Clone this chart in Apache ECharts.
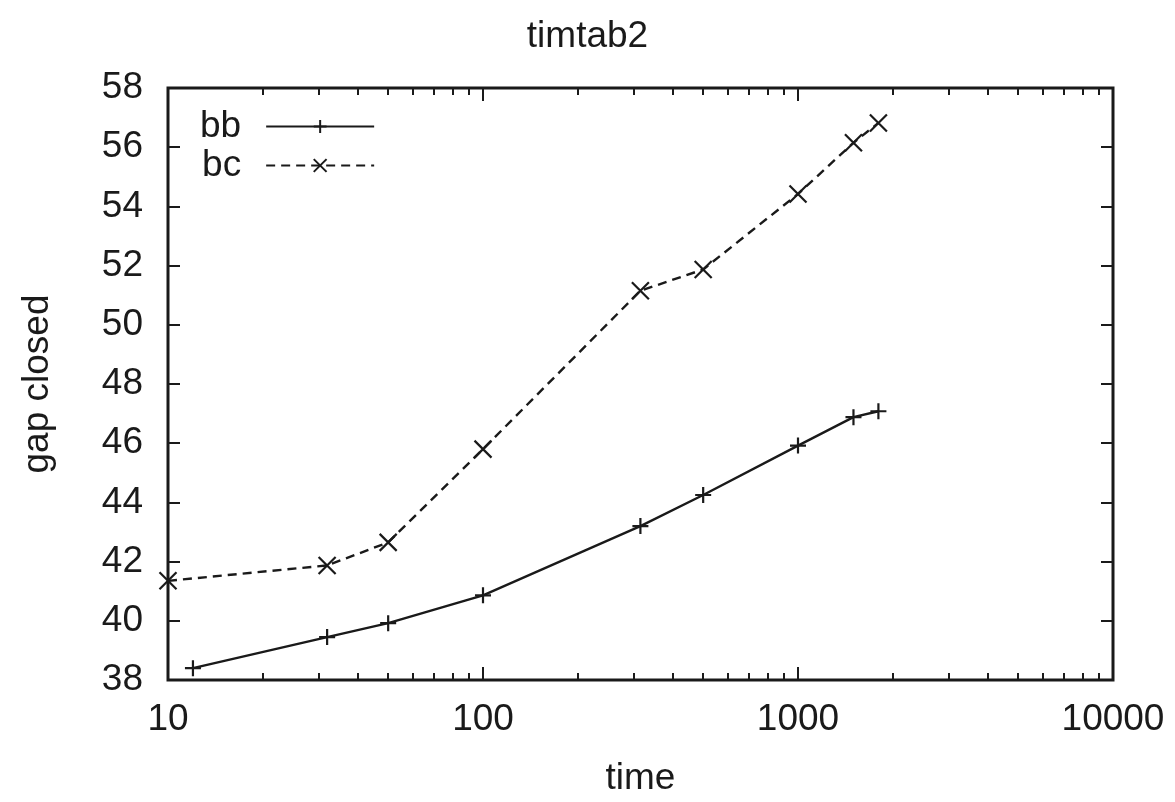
<!DOCTYPE html>
<html>
<head>
<meta charset="utf-8">
<script src="https://cdn.jsdelivr.net/npm/echarts@6/dist/echarts.min.js"></script>
<style>
html,body{margin:0;padding:0;background:#fff;}
#chart{width:1175px;height:802px;}
</style>
</head>
<body>
<div id="chart"></div>
<script>
// ---- data ----
const titleText = 'timtab2';
const seriesNames = ['bb', 'bc'];
const bbTime = [12, 32, 50, 100, 316, 500, 1000, 1500, 1800];
const bbGap  = [38.4, 39.45, 39.92, 40.86, 43.2, 44.25, 45.92, 46.88, 47.08];
const bcTime = [10, 32, 50, 100, 316, 500, 1000, 1500, 1800];
const bcGap  = [41.35, 41.87, 42.65, 45.8, 51.15, 51.87, 54.42, 56.15, 56.82];
const xMajorTicks = [10, 100, 1000, 10000];
const xMinorTicks = [20, 30, 40, 50, 60, 70, 80, 90,
                     200, 300, 400, 500, 600, 700, 800, 900,
                     2000, 3000, 4000, 5000, 6000, 7000, 8000, 9000];
const yMin = 38, yMax = 58, yStep = 2;

const FONT = 'Liberation Sans';
const FS = 37;
const INK = '#1a1a1a';

const plusPath = 'path://M0,5L10,5M5,0L5,10';
const crossPath = 'path://M0,0L10,10M10,0L0,10';

function pairs(xs, ys) { return xs.map((x, i) => [x, ys[i]]); }

function xAxisDef(pos, ticks, len, showLabel) {
  return {
    type: 'log', logBase: 10, min: 10, max: 10000, position: pos,
    axisLine: { show: false },
    splitLine: { show: false },
    axisTick: { show: true, inside: true, length: len, customValues: ticks,
                lineStyle: { color: INK, width: 2 } },
    axisLabel: { show: showLabel, customValues: xMajorTicks, margin: 21,
                 formatter: v => String(Math.round(v)),
                 fontFamily: FONT, fontSize: FS, color: INK },
  };
}

const chart = echarts.init(document.getElementById('chart'), null, { renderer: 'canvas' });
chart.setOption({
  animation: false,
  backgroundColor: '#fff',
  title: {
    text: titleText, left: 'center', top: 13,
    textStyle: { fontFamily: FONT, fontSize: FS, fontWeight: 'normal', color: INK }
  },
  legend: {
    orient: 'vertical', left: 195, top: 103, align: 'right',
    itemWidth: 108, itemHeight: 16, itemGap: 2,
    textStyle: { fontFamily: FONT, fontSize: FS, color: INK, padding: [0, 20, 0, 0] },
    data: seriesNames
  },
  grid: {
    left: 168, right: 62, top: 88, bottom: 120,
    show: true, borderColor: INK, borderWidth: 3, backgroundColor: 'transparent'
  },
  xAxis: [
    Object.assign(xAxisDef('bottom', xMajorTicks, 13, true), {
      name: 'time', nameLocation: 'middle', nameGap: 80,
      nameTextStyle: { fontFamily: FONT, fontSize: FS, color: INK }
    }),
    xAxisDef('bottom', xMinorTicks, 7, false),
    xAxisDef('top', xMajorTicks, 13, false),
    xAxisDef('top', xMinorTicks, 7, false)
  ],
  yAxis: [
    {
      type: 'value', min: yMin, max: yMax, interval: yStep, position: 'left',
      name: 'gap closed', nameLocation: 'middle', nameGap: 112, nameRotate: 90,
      nameTextStyle: { fontFamily: FONT, fontSize: FS, color: INK },
      axisLine: { show: false }, splitLine: { show: false },
      axisTick: { inside: true, length: 12, lineStyle: { color: INK, width: 2 } },
      axisLabel: { margin: 25, fontFamily: FONT, fontSize: FS, color: INK }
    },
    {
      type: 'value', min: yMin, max: yMax, interval: yStep, position: 'right',
      axisLine: { show: false }, splitLine: { show: false },
      axisTick: { inside: true, length: 12, lineStyle: { color: INK, width: 2 } },
      axisLabel: { show: false }
    }
  ],
  series: [
    {
      name: seriesNames[0], type: 'line', xAxisIndex: 0, yAxisIndex: 0,
      data: pairs(bbTime, bbGap),
      symbol: plusPath, symbolSize: 16, showSymbol: true,
      lineStyle: { color: INK, width: 2.4, type: 'solid' },
      itemStyle: { color: INK, borderColor: INK, borderWidth: 2.2 }
    },
    {
      name: seriesNames[1], type: 'line', xAxisIndex: 0, yAxisIndex: 0,
      data: pairs(bcTime, bcGap),
      symbol: crossPath, symbolSize: 17, showSymbol: true,
      lineStyle: { color: INK, width: 2.4, type: [9, 6] },
      itemStyle: { color: INK, borderColor: INK, borderWidth: 2.2 }
    }
  ]
});
</script>
</body>
</html>
